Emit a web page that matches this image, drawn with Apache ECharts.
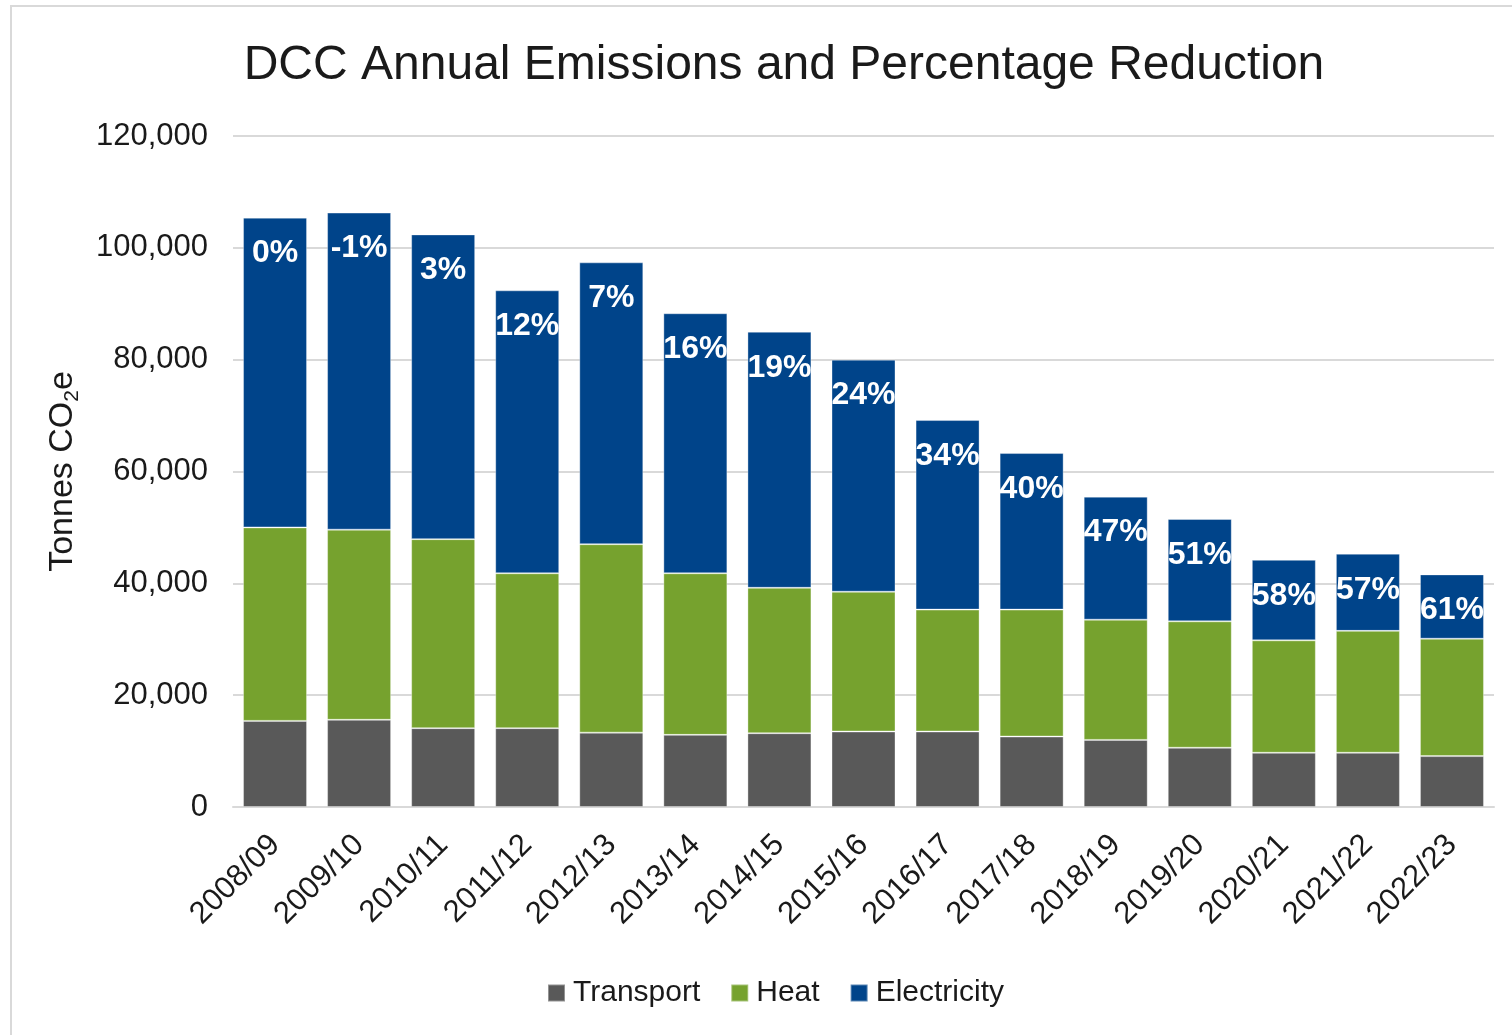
<!DOCTYPE html>
<html>
<head>
<meta charset="utf-8">
<script src="https://cdn.jsdelivr.net/npm/echarts@6/dist/echarts.min.js"></script>
<style>
  html, body { margin: 0; padding: 0; background: #fff; }
  #frame { position: absolute; left: 10px; top: 5px; width: 1520px; height: 1050px; border: 2px solid #d9d9d9; box-sizing: border-box; }
  #chart { position: absolute; left: 0; top: 0; width: 1512px; height: 1035px; }
</style>
</head>
<body>
<div id="frame"></div>
<div id="chart"></div>
<script>
const categories = ['2008/09','2009/10','2010/11','2011/12','2012/13','2013/14','2014/15','2015/16','2016/17','2017/18','2018/19','2019/20','2020/21','2021/22','2022/23'];
const transport = [15400, 15600, 14100, 14100, 13300, 12900, 13200, 13500, 13500, 12600, 12000, 10600, 9700, 9700, 9100];
const heat = [34600, 34000, 33800, 27700, 33700, 28900, 26000, 25000, 21800, 22700, 21500, 22600, 20100, 21800, 21000];
const electricity = [55400, 56700, 54500, 50600, 50400, 46500, 45800, 41500, 33900, 28000, 22000, 18300, 14400, 13800, 11500];
const pctLabels = ['0%','-1%','3%','12%','7%','16%','19%','24%','34%','40%','47%','51%','58%','57%','61%'];
const yTicks = [0, 20000, 40000, 60000, 80000, 100000, 120000];

const FONT = '"Liberation Sans", Arial, sans-serif';
const chart = echarts.init(document.getElementById('chart'), null, { renderer: 'canvas' });
chart.setOption({
  animation: false,
  backgroundColor: 'transparent',
  textStyle: { fontFamily: FONT },
  title: {
    text: 'DCC Annual Emissions and Percentage Reduction',
    left: 779, top: 37, textAlign: 'center',
    textStyle: { fontFamily: FONT, fontSize: 48, fontWeight: 'normal', color: '#1a1a1a' }
  },
  legend: {
    data: ['Transport', 'Heat', 'Electricity'],
    left: 542, top: 973,
    icon: 'rect', itemWidth: 17, itemHeight: 17, itemGap: 30,
    textStyle: { fontFamily: FONT, fontSize: 30, color: '#1a1a1a', padding: [0, 0, 0, 3] }
  },
  grid: { left: 233, right: 18, top: 136, bottom: 228, containLabel: false },
  xAxis: {
    type: 'category', data: categories,
    axisLine: { lineStyle: { color: '#d9d9d9', width: 2 } },
    axisTick: { show: false },
    axisLabel: { rotate: 45, fontFamily: FONT, fontSize: 31, color: '#1a1a1a', margin: 33, interval: 0 }
  },
  yAxis: {
    type: 'value', min: yTicks[0], max: yTicks[yTicks.length - 1], interval: 20000,
    name: 'Tonnes CO{sub|2}e', nameLocation: 'middle', nameGap: 150, nameRotate: 90,
    nameTextStyle: {
      fontFamily: FONT, fontSize: 34, color: '#1a1a1a', lineHeight: 40,
      rich: { sub: { fontFamily: FONT, fontSize: 21, lineHeight: 20, verticalAlign: 'bottom', color: '#1a1a1a' } }
    },
    axisLine: { show: false }, axisTick: { show: false },
    splitLine: { lineStyle: { color: '#d9d9d9', width: 2 } },
    axisLabel: {
      fontFamily: FONT, fontSize: 31, color: '#1a1a1a', margin: 25,
      formatter: v => v.toLocaleString('en-GB')
    }
  },
  series: [
    { name: 'Transport', type: 'bar', stack: 'total', data: transport, barWidth: 64,
      itemStyle: { color: '#595959', borderColor: 'rgba(255,255,255,0.35)', borderWidth: 1 } },
    { name: 'Heat', type: 'bar', stack: 'total', data: heat, barWidth: 64,
      itemStyle: { color: '#76A22E', borderColor: 'rgba(255,255,255,0.35)', borderWidth: 1 } },
    { name: 'Electricity', type: 'bar', stack: 'total', data: electricity, barWidth: 64,
      itemStyle: { color: '#00448A', borderColor: 'rgba(255,255,255,0.35)', borderWidth: 1 },
      label: {
        show: true, position: 'insideTop', distance: 20,
        color: '#ffffff', fontFamily: FONT, fontWeight: 'bold', fontSize: 32,
        formatter: p => pctLabels[p.dataIndex]
      } }
  ]
});
</script>
</body>
</html>
